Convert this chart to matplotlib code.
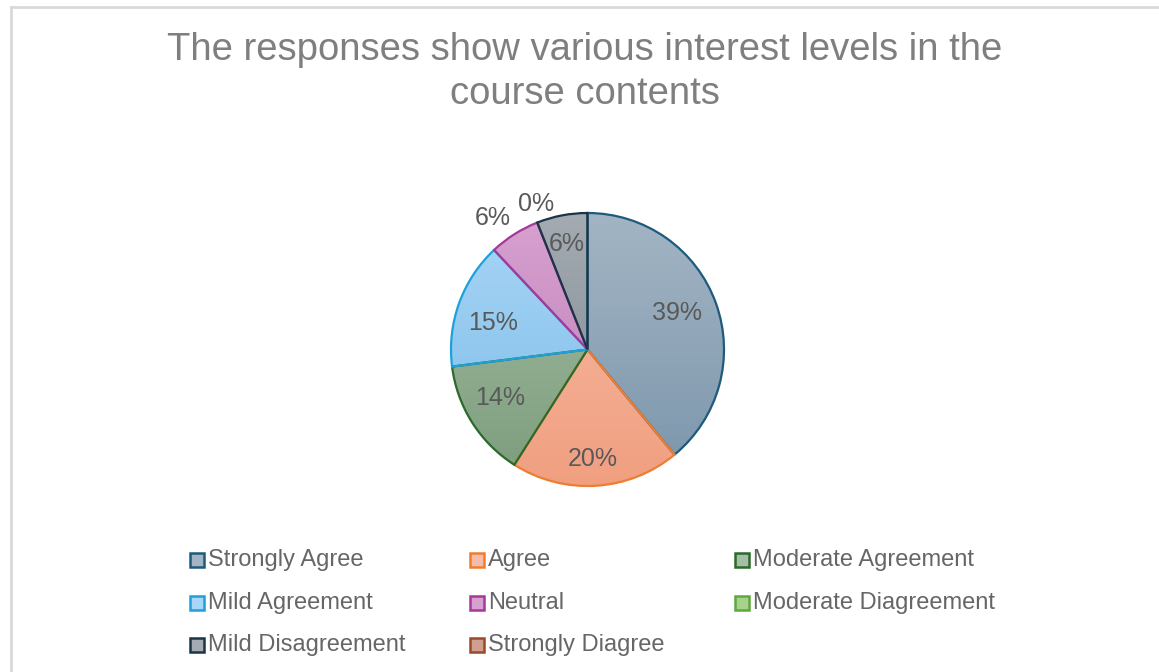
import matplotlib
matplotlib.use('Agg')
import matplotlib.pyplot as plt
import numpy as np
from matplotlib.colors import LinearSegmentedColormap
from matplotlib.patches import Rectangle

plt.rcParams['font.family'] = ['Liberation Sans', 'DejaVu Sans']

# survey responses (percent of respondents)
categories = ["Strongly Agree", "Agree", "Moderate Agreement",
              "Mild Agreement", "Neutral", "Moderate Diagreement",
              "Mild Disagreement", "Strongly Diagree"]
shares = [39, 20, 14, 15, 6, 0, 6, 0]
show_label = [True, True, True, True, True, True, True, False]

# fill gradient (top, bottom) and outline colour per slice
fill_top = ["#a3b5c4", "#f6bca7", "#a6bea6", "#a9d6f6", "#d6a1cf",
            "#a9d18e", "#a4abb2", "#cfa08f"]
fill_bottom = ["#7b95ab", "#f19f80", "#7c9c7c", "#7cbbe8", "#c07cb6",
               "#86bb66", "#7c868f", "#b77c66"]
edges = ["#1d5a7c", "#ed7d31", "#2a6a2a", "#1ea0db", "#a5389a",
         "#5fa83c", "#1a3547", "#9b4a2a"]
# label placement: radius as a fraction of the pie radius, angle nudge in degrees
label_r = [0.71, 0.80, 0.735, 0.72, 1.19, 1.13, 0.79, 1.1]
label_nudge = [2.5, -1.0, -3.3, 3.9, 3.3, -2.3, 0.4, 0.0]

W, H = 1159, 672
fig = plt.figure(figsize=(W / 100, H / 100), dpi=100)

# chart area frame
fig.add_artist(plt.Line2D([10.5 / W, 10.5 / W], [0, 1 - 7 / H],
                          transform=fig.transFigure, color="#d9d9d9", lw=2))
fig.add_artist(plt.Line2D([10.5 / W, 1], [1 - 7 / H, 1 - 7 / H],
                          transform=fig.transFigure, color="#d9d9d9", lw=2))

fig.text(585 / W, 1 - 72 / H,
         "The responses show various interest levels in the\ncourse contents",
         ha="center", va="center", fontsize=27.5, color="#7f7f7f",
         linespacing=1.25)

# pie axes
cx, cy, R = 587.5, 349.5, 136.5
half = 220
ax = fig.add_axes([(cx - half) / W, (H - cy - half) / H,
                   2 * half / W, 2 * half / H])
lim = half / R

wedges, _ = ax.pie(shares, startangle=90, counterclock=False, radius=1,
                   wedgeprops=dict(linewidth=1.6))

grad = np.linspace(0, 1, 256).reshape(-1, 1)
for i, w in enumerate(wedges):
    cmap = LinearSegmentedColormap.from_list("g%d" % i,
                                             [fill_bottom[i], fill_top[i]])
    w.set_facecolor("none")
    w.set_edgecolor(edges[i])
    w.set_zorder(3)
    if shares[i] == 0:
        w.set_linewidth(0)
    im = ax.imshow(grad, cmap=cmap, extent=[-1, 1, -1, 1], origin="lower",
                   aspect="auto", zorder=2)
    im.set_clip_path(w)
    if show_label[i]:
        mid = np.deg2rad((w.theta1 + w.theta2) / 2 + label_nudge[i])
        r = label_r[i]
        ax.text(r * np.cos(mid), r * np.sin(mid), "%d%%" % shares[i],
                ha="center", va="center", fontsize=18, color="#595959",
                zorder=4)

ax.set_xlim(-lim, lim)
ax.set_ylim(-lim, lim)
ax.set_aspect("equal")
ax.axis("off")

# legend, three entries per row
col_x = [190, 470, 735]
row_y = [560, 603, 645]
box = 14
for i, name in enumerate(categories):
    x = col_x[i % 3]
    y = row_y[i // 3]
    fig.add_artist(Rectangle((x / W, (H - y - box / 2) / H), box / W,
                             box / H, transform=fig.transFigure,
                             facecolor=fill_top[i], edgecolor=edges[i],
                             lw=1.8))
    fig.text((x + box + 4) / W, (H - y) / H, name, ha="left", va="center",
             fontsize=17, color="#666666")

fig.savefig("out.png", dpi=100, facecolor="white")
